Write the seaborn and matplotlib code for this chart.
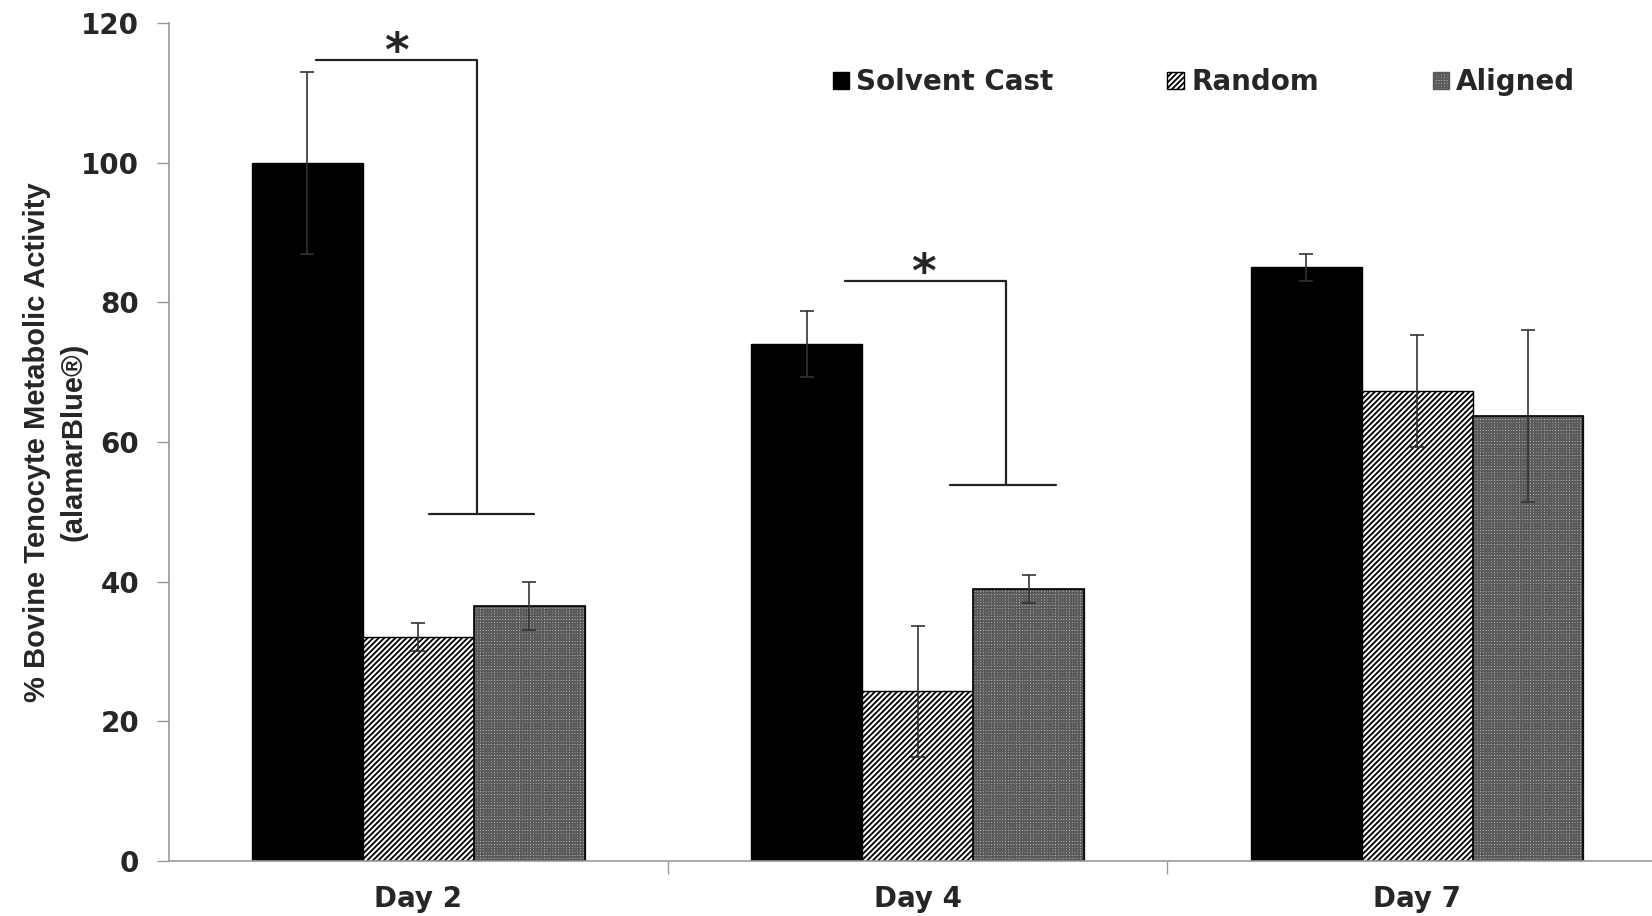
import pandas as pd
import matplotlib
matplotlib.use("Agg")
import matplotlib.pyplot as plt
from matplotlib.patches import Rectangle
import seaborn as sns

# Datos
days = ["Day 2", "Day 4", "Day 7"]
groups = ["Solvent Cast", "Random", "Aligned"]
solvent_cast = [100.0, 74.0, 85.0]
random_fib = [32.0, 24.3, 67.3]
aligned_fib = [36.5, 39.0, 63.7]
solvent_err = [13.0, 4.7, 2.0]
random_err = [2.0, 9.4, 8.0]
aligned_err = [3.5, 2.0, 12.3]

sns.set_style("white")
plt.rcParams["font.family"] = ["Liberation Sans", "DejaVu Sans"]
plt.rcParams["hatch.linewidth"] = 1.3

rows = []
for g, vals in zip(groups, [solvent_cast, random_fib, aligned_fib]):
    for d, v in zip(days, vals):
        rows.append({"Day": d, "Group": g, "Value": v})
df = pd.DataFrame(rows)

fig = plt.figure(figsize=(16.52, 9.16), dpi=100)
ax = fig.add_axes([0.102, 0.0603, 0.907, 0.9144])

sns.barplot(data=df, x="Day", y="Value", hue="Group", order=days, hue_order=groups,
            palette=["black", "white", "#d4d4d4"], errorbar=None, width=0.666,
            edgecolor="black", linewidth=1.0, ax=ax, legend=False)

hatches = [None, "//////", "++++++"]
errs = [solvent_err, random_err, aligned_err]
for i, (cont, h, e) in enumerate(zip(ax.containers, hatches, errs)):
    xs = []
    ys = []
    for p in cont.patches:
        if h:
            p.set_hatch(h)
        if i == 2:
            # trama gris y contorno negro encima
            p.set_edgecolor("#5a5a5a")
            ax.add_patch(Rectangle(p.get_xy(), p.get_width(), p.get_height(),
                                   fill=False, edgecolor="black", lw=1.2, zorder=p.get_zorder() + 0.1))
        xs.append(p.get_x() + p.get_width() / 2)
        ys.append(p.get_height())
    ax.errorbar(xs, ys, yerr=e, fmt="none", ecolor="#333333", elinewidth=1.2,
                capsize=5, capthick=1.2, zorder=5)

ax.set_xlim(-0.5, 2.5)
ax.set_ylim(0, 120)
ax.set_yticks(range(0, 121, 20))
ax.set_xlabel("")
ax.set_ylabel("% Bovine Tenocyte Metabolic Activity\n(alamarBlue\u00ae)",
              fontsize=21, fontweight="bold", linespacing=1.4,
              family=["Liberation Sans", "DejaVu Sans"])
ax.yaxis.set_label_coords(-0.054, 0.5)

for s in ["top", "right"]:
    ax.spines[s].set_visible(False)
for s in ["left", "bottom"]:
    ax.spines[s].set_color("#999999")
    ax.spines[s].set_linewidth(1.2)

ax.tick_params(axis="y", which="major", left=True, length=9, width=1.0, color="#999999",
               direction="out", pad=12)
ax.tick_params(axis="x", which="major", bottom=False, pad=14)
ax.set_xticks([0.5, 1.5], minor=True)
ax.tick_params(axis="x", which="minor", bottom=True, length=9, width=1.0, color="#999999",
               direction="out")
for lab in ax.get_yticklabels():
    lab.set_fontsize(20)
    lab.set_fontweight("bold")
    lab.set_family(["DejaVu Sans"])
for lab in ax.get_xticklabels():
    lab.set_fontsize(20)
    lab.set_fontweight("bold")
    lab.set_family(["DejaVu Sans"])

# Corchetes de significancia
def bracket(x1, x2, y_top, y_low, xl1, xl2, xstar):
    ax.plot([x1, x2, x2], [y_top, y_top, y_low], color="#222222", lw=1.6, zorder=6)
    ax.plot([xl1, xl2], [y_low, y_low], color="#222222", lw=1.6, zorder=6)
    ax.text(xstar, y_top - 2.2, "*", ha="center", va="bottom", fontsize=34,
            fontweight="bold", family=["DejaVu Sans"])

bracket(-0.205, 0.118, 114.7, 49.7, 0.021, 0.232, -0.044)
bracket(0.854, 1.177, 83.0, 53.9, 1.065, 1.276, 1.011)

leg = ax.legend(ax.containers, groups, loc="upper right", bbox_to_anchor=(0.939, 0.946),
                ncol=3, frameon=False, handlelength=0.6, handleheight=0.6,
                handletextpad=0.25, columnspacing=4.1, borderaxespad=0, borderpad=0,
                prop={"size": 20, "weight": "bold", "family": "DejaVu Sans"})

fig.savefig("out.png", dpi=100)
